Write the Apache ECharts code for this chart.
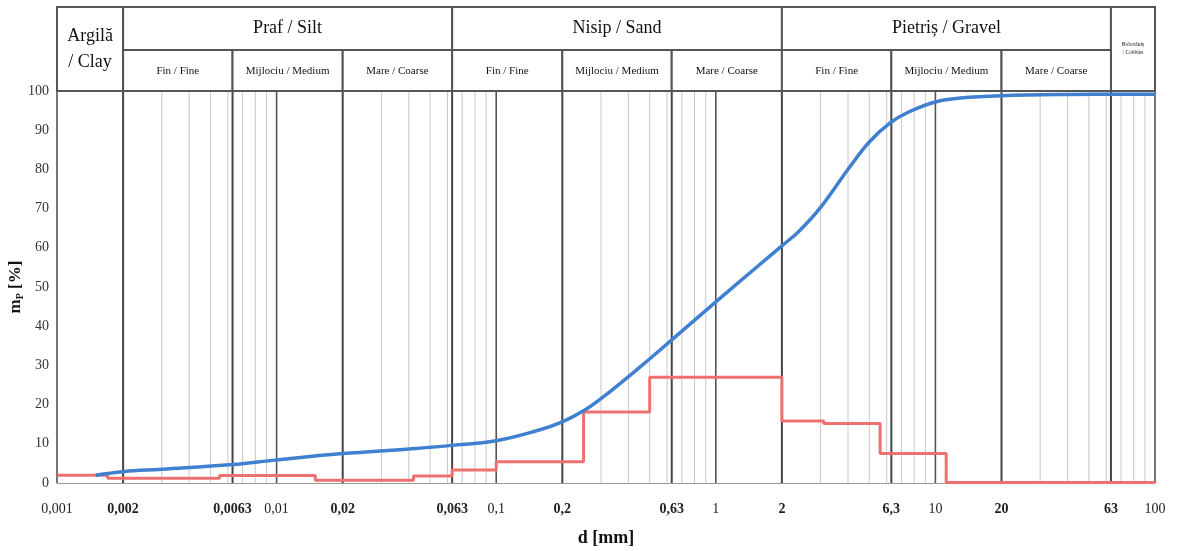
<!DOCTYPE html>
<html>
<head>
<meta charset="utf-8">
<script src="https://cdn.jsdelivr.net/npm/echarts@6/dist/echarts.min.js"></script>
<style>
html,body{margin:0;padding:0;background:#fff;}
#chart{width:1182px;height:551px;}
</style>
</head>
<body>
<div id="chart"></div>
<script>
// ---- data ----
const decadeValues = [0.001, 0.01, 0.1, 1, 10, 100];
const boundaryValues = [0.002, 0.0063, 0.02, 0.063, 0.2, 0.63, 2, 6.3, 20, 63];
const xTickValues = [0.001, 0.002, 0.0063, 0.01, 0.02, 0.063, 0.1, 0.2, 0.63, 1, 2, 6.3, 10, 20, 63, 100];
const xTickLabels = ['0,001', '0,002', '0,0063', '0,01', '0,02', '0,063', '0,1', '0,2', '0,63', '1', '2', '6,3', '10', '20', '63', '100'];

const mainBandNames = ['Argilă\n/ Clay', 'Praf / Silt', 'Nisip / Sand', 'Pietriș / Gravel', 'Bolovăniș\n/ Cobbles'];
const mainBandFrom = [0.001, 0.002, 0.063, 2, 63];
const mainBandTo = [0.002, 0.063, 2, 63, 100];
const subBandNames = ['Fin / Fine', 'Mijlociu / Medium', 'Mare / Coarse',
                      'Fin / Fine', 'Mijlociu / Medium', 'Mare / Coarse',
                      'Fin / Fine', 'Mijlociu / Medium', 'Mare / Coarse'];
const subBandFrom = [0.002, 0.0063, 0.02, 0.063, 0.2, 0.63, 2, 6.3, 20];
const subBandTo = [0.0063, 0.02, 0.063, 0.2, 0.63, 2, 6.3, 20, 63];

// cumulative passing curve (blue)
const cumD = [0.0015, 0.002, 0.003, 0.0063, 0.01, 0.02, 0.04, 0.063, 0.1, 0.15, 0.2, 0.25, 0.3, 0.45, 0.63, 1, 1.5, 2, 2.4, 3, 4.07, 5, 6.2, 7.6, 10, 13, 20, 40, 100];
const cumP = [2.0, 2.9, 3.5, 4.7, 5.9, 7.5, 8.7, 9.6, 10.8, 13.2, 15.6, 18.4, 21.5, 29.5, 36.5, 46.2, 54.6, 60.5, 64.3, 70.3, 80.6, 87.0, 91.8, 94.7, 97.2, 98.2, 98.8, 99.1, 99.2];

// fraction histogram (red, step)
const fracEdges = [0.001, 0.0017, 0.0055, 0.015, 0.042, 0.063, 0.1, 0.25, 0.5, 2, 3.1, 5.6, 11.2, 100];
const fracValues = [2.0, 1.2, 1.9, 0.7, 1.8, 3.3, 5.4, 18.1, 27.0, 15.8, 15.2, 7.5, 0.1];

// ---- build ----
const serif = '"Liberation Serif", "DejaVu Serif", serif';
const gridLineData = [];
for (let k = -3; k <= 1; k++) {
  for (let m = 3; m <= 9; m++) gridLineData.push([+(m * Math.pow(10, k)).toPrecision(3), 0]);
}
decadeValues.forEach(v => gridLineData.push([v, 1]));
boundaryValues.forEach(v => gridLineData.push([v, 2]));

const blueData = cumD.map((d, i) => [d, cumP[i]]);
const redData = fracEdges.map((d, i) => [d, i < fracValues.length ? fracValues[i] : fracValues[fracValues.length - 1]]);

const headerData = [];
mainBandNames.forEach((n, i) => {
  const full = (i === 0 || i === mainBandNames.length - 1);
  headerData.push({value: [mainBandFrom[i], mainBandTo[i], full ? 2 : 0, 0], name: n});
});
subBandNames.forEach((n, i) => {
  headerData.push({value: [subBandFrom[i], subBandTo[i], 1, 0], name: n});
});

const labelData = xTickValues.map((v, i) => ({value: [v, 0], name: xTickLabels[i], bold: boundaryValues.indexOf(v) >= 0}));

const chart = echarts.init(document.getElementById('chart'));
const HEADER_H = 84, SUB_H = 41;
const lineStyles = [
  {stroke: '#c8c8c8', lineWidth: 1},
  {stroke: '#555', lineWidth: 1.6},
  {stroke: '#444', lineWidth: 2}
];

chart.setOption({
  animation: false,
  backgroundColor: '#fff',
  grid: {left: 57, right: 27, top: 91, bottom: 68, containLabel: false, outerBoundsMode: 'none'},
  xAxis: {
    type: 'log', logBase: 10, min: 0.001, max: 100,
    axisLabel: {show: false}, axisTick: {show: false}, splitLine: {show: false},
    axisLine: {show: true, lineStyle: {color: '#999', width: 1}},
    name: 'd [mm]', nameLocation: 'middle', nameGap: 46,
    nameTextStyle: {fontFamily: serif, fontWeight: 'bold', fontSize: 18, color: '#111'}
  },
  yAxis: {
    type: 'value', min: 0, max: 100, interval: 10,
    axisLine: {show: false}, axisTick: {show: false}, splitLine: {show: false},
    axisLabel: {fontFamily: serif, fontSize: 14, color: '#333', margin: 8},
    name: '{a|m}{s|P}{a| [%]}', nameLocation: 'middle', nameGap: 32, nameRotate: 90,
    nameMoveOverlap: false,
    nameTextStyle: {
      rich: {
        a: {fontFamily: serif, fontWeight: 'bold', fontSize: 17, color: '#111', lineHeight: 18},
        s: {fontFamily: serif, fontWeight: 'bold', fontSize: 10, color: '#111', lineHeight: 18, verticalAlign: 'bottom', padding: [5, 0, 0, 0]}
      }
    }
  },
  series: [
    {
      type: 'custom', z: 1, silent: true, clip: false,
      encode: {x: 0, y: 1},
      data: gridLineData,
      renderItem: function (params, api) {
        const v = api.value(0);
        const kind = api.value(1);
        const p0 = api.coord([v, 0]);
        const p1 = api.coord([v, 100]);
        return {type: 'line', shape: {x1: p0[0], y1: p0[1], x2: p1[0], y2: p1[1]},
                style: lineStyles[kind], z2: kind};
      }
    },
    {
      type: 'custom', z: 3, silent: true, clip: false,
      encode: {x: [0, 1], y: 3},
      data: headerData,
      renderItem: function (params, api) {
        const item = headerData[params.dataIndex];
        const x0 = api.coord([api.value(0), 100])[0];
        const x1 = api.coord([api.value(1), 100])[0];
        const bottom = api.coord([api.value(0), 100])[1];
        const row = api.value(2);
        let y0, y1;
        if (row === 2) { y0 = bottom - HEADER_H; y1 = bottom; }
        else if (row === 0) { y0 = bottom - HEADER_H; y1 = bottom - SUB_H; }
        else { y0 = bottom - SUB_H; y1 = bottom; }
        let fs = row === 1 ? 11 : 18;
        let lh = 26;
        if (row === 2 && params.dataIndex > 0) { fs = 5.5; lh = 8; }
        return {
          type: 'group',
          children: [
            {type: 'rect', shape: {x: x0, y: y0, width: x1 - x0, height: y1 - y0},
             style: {fill: '#fff', stroke: '#555', lineWidth: 2}},
            {type: 'text', style: {text: item.name, x: (x0 + x1) / 2, y: (y0 + y1) / 2 + (row === 1 ? 1 : 0),
             textAlign: 'center', textVerticalAlign: 'middle', fontFamily: serif, fontSize: fs,
             lineHeight: lh, fill: '#111'}}
          ]
        };
      }
    },
    {
      type: 'custom', z: 3, silent: true, clip: false,
      encode: {x: 0, y: 1},
      data: labelData,
      renderItem: function (params, api) {
        const item = labelData[params.dataIndex];
        const p = api.coord([api.value(0), api.value(1)]);
        return {type: 'text', style: {text: item.name, x: p[0], y: p[1] + 26,
          textAlign: 'center', textVerticalAlign: 'middle', fontFamily: serif,
          fontSize: 14, fontWeight: item.bold ? 'bold' : 'normal', fill: '#222'}};
      }
    },
    {
      type: 'line', data: redData, step: 'end', z: 5, symbol: 'none', silent: true,
      lineStyle: {color: '#f07070', width: 3}
    },
    {
      type: 'line', data: blueData, smooth: 0.4, z: 6, symbol: 'none', silent: true,
      lineStyle: {color: '#3f80d0', width: 3.5}
    }
  ]
});
</script>
</body>
</html>
